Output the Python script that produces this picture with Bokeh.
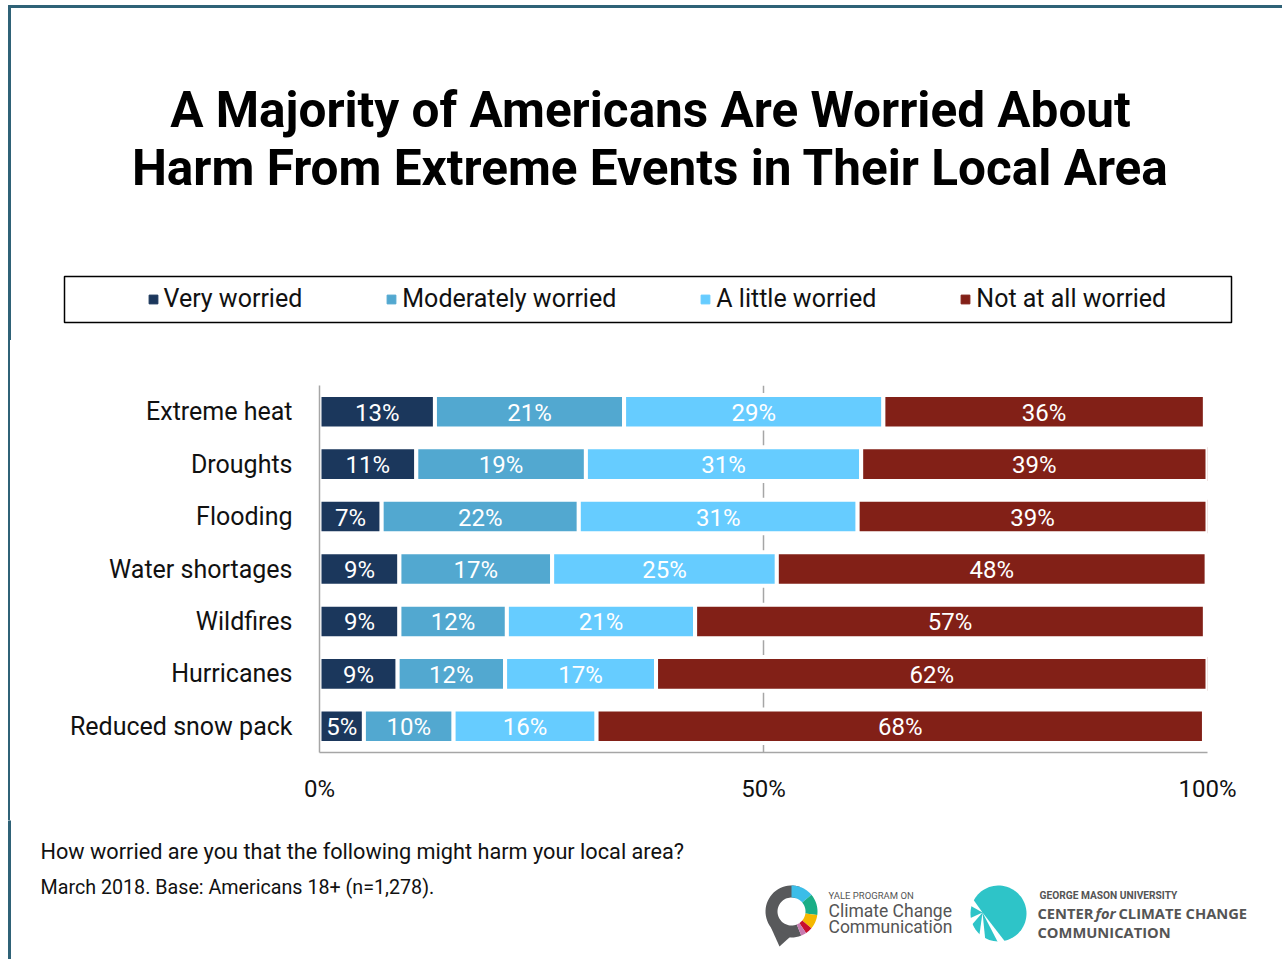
import numpy as np
from bokeh.plotting import figure
from bokeh.layouts import column, row
from bokeh.models import (ColumnDataSource, FactorRange, Range1d, FixedTicker, Label, LabelSet,
                          Legend, LegendItem, Div)
from bokeh.core.properties import value
from bokeh.embed import file_html
from bokeh.resources import INLINE

# ---------------- data ----------------
categories = ["Extreme heat", "Droughts", "Flooding", "Water shortages",
              "Wildfires", "Hurricanes", "Reduced snow pack"]
very_worried = [13.0, 10.9, 7.0, 9.0, 9.0, 8.8, 5.0]
moderately_worried = [21.3, 19.1, 22.2, 17.2, 12.1, 12.1, 10.1]
little_worried = [29.2, 31.0, 31.4, 25.3, 21.2, 17.0, 16.1]
not_worried = [36.2, 39.0, 39.4, 48.4, 57.4, 62.1, 68.4]
series_names = ["Very worried", "Moderately worried", "A little worried", "Not at all worried"]
series_colors = ["#1b375c", "#52a8d0", "#66ccff", "#822017"]
x_ticks = [0, 50, 100]
x_tick_labels = ["0%", "50%", "100%"]

series_values = [very_worried, moderately_worried, little_worried, not_worried]
keys = ["s0", "s1", "s2", "s3"]

data = {"cat": categories}
for k, v in zip(keys, series_values):
    data[k] = v
source = ColumnDataSource(data)

lab_x, lab_y, lab_t = [], [], []
cum = np.zeros(len(categories))
for v in series_values:
    arr = np.array(v, dtype=float)
    for i, c in enumerate(categories):
        lab_x.append(cum[i] + arr[i] / 2.0)
        lab_y.append(c)
        lab_t.append(f"{int(round(arr[i]))}%")
    cum += arr
lab_source = ColumnDataSource(dict(x=lab_x, y=lab_y, t=lab_t))

# ---------------- page geometry ----------------
W = 1282
HEAD_H, MAIN_H, FOOT_H = 340, 480, 139
STRIP_W = 10
FL, FR, FT, FB = 319, 1207, 385, 752        # bar frame in page pixels
BORDER = "#2f6277"


def blank(width, height, y0):
    f = figure(width=width, height=height, output_backend="svg", toolbar_location=None,
               x_range=Range1d(0, width), y_range=Range1d(y0 + height, y0),
               x_axis_location=None, y_axis_location=None, min_border=0)
    f.grid.visible = False
    f.outline_line_color = None
    f.background_fill_color = "white"
    f.border_fill_color = "white"
    return f


def txt(f, text, x, y, size, color="#000000", style="normal", align="left", font="Roboto"):
    f.add_layout(Label(x=x, y=y, text=text, text_font=font, text_font_size=f"{size}px",
                       text_color=color, text_font_style=style, text_align=align,
                       text_baseline="middle"))


# ---------------- header ----------------
head = blank(W, HEAD_H, 0)
head.quad(left=[8], right=[W], top=[5], bottom=[7], color=BORDER)
head.quad(left=[8], right=[10], top=[5], bottom=[HEAD_H], color=BORDER)
txt(head, "A Majority of Americans Are Worried About", 650, 109, 49.5, style="bold", align="center")
txt(head, "Harm From Extreme Events in Their Local Area", 650, 167, 49.5, style="bold", align="center")
head.quad(left=[64], right=[1231], top=[276], bottom=[322], fill_alpha=0,
          line_color="black", line_width=1.5)

# legend swatches: off-canvas stand-in renderers carrying the series colours
dummies = [head.scatter(x=[-1000], y=[-1000], marker="square", color=c) for c in series_colors]
legend = Legend(items=[LegendItem(label=n, renderers=[r]) for n, r in zip(series_names, dummies)],
                orientation="horizontal", location=(141.5, HEAD_H - 313),
                padding=0, spacing=78, margin=0,
                glyph_width=22, glyph_height=28, label_height=28, label_standoff=0,
                label_text_font="Roboto", label_text_font_size="25px",
                label_text_color="#111111", label_text_baseline="middle",
                border_line_color=None, background_fill_alpha=0)
head.add_layout(legend)

# ---------------- main chart ----------------
strip = Div(text="", width=2, height=MAIN_H, margin=(0, 0, 0, 8),
            styles={"background-color": BORDER})

p = figure(width=W - STRIP_W, height=MAIN_H, output_backend="svg", toolbar_location=None,
           x_range=Range1d(0, 100),
           y_range=FactorRange(factors=categories[::-1], range_padding=0),
           min_border_left=FL - STRIP_W, min_border_right=W - FR,
           min_border_top=FT - HEAD_H, min_border_bottom=HEAD_H + MAIN_H - FB)
p.outline_line_color = None
p.background_fill_color = "white"
p.border_fill_color = "white"

renderers = p.hbar_stack(keys, y="cat", height=0.64, color=series_colors, source=source,
                         line_color="white", line_width=4)

p.add_layout(LabelSet(x="x", y="y", text="t", source=lab_source, text_color="white",
                      text_font=value("Roboto"), text_font_size="24px",
                      text_align="center", text_baseline="middle", y_offset=-1))

p.xaxis.ticker = FixedTicker(ticks=x_ticks)
p.xaxis.major_label_overrides = {t: l for t, l in zip(x_ticks, x_tick_labels)}
p.xaxis.major_label_text_font = "Roboto"
p.xaxis.major_label_text_font_size = "24px"
p.xaxis.major_label_text_color = "#111111"
p.xaxis.major_label_standoff = 16
p.xaxis.major_tick_line_color = None
p.xaxis.minor_tick_line_color = None
p.xaxis.axis_line_color = "#a6a6a6"
p.xaxis.axis_line_width = 1.5

p.yaxis.major_label_text_font = "Roboto"
p.yaxis.major_label_text_font_size = "25px"
p.yaxis.major_label_text_color = "#111111"
p.yaxis.major_label_standoff = 21
p.yaxis.major_tick_line_color = None
p.yaxis.minor_tick_line_color = None
p.yaxis.axis_line_color = "#a6a6a6"
p.yaxis.axis_line_width = 1.5

p.xgrid.ticker = FixedTicker(ticks=x_ticks)
p.xgrid.grid_line_color = "#a6a6a6"
p.xgrid.grid_line_width = 1.5
p.ygrid.grid_line_color = None

# ---------------- footer ----------------
Y0 = HEAD_H + MAIN_H
foot = blank(W, FOOT_H, Y0)
foot.quad(left=[8], right=[10], top=[Y0], bottom=[Y0 + FOOT_H], color=BORDER)
txt(foot, "How worried are you that the following might harm your local area?", 40, 851, 21.7,
    color="#111111")
txt(foot, "March 2018. Base: Americans 18+ (n=1,278).", 40, 887, 19.7, color="#111111")

# Yale logo (ring built from arc polygons)
cx, cy, r0, r1 = 791, 911, 14, 26


def arc_poly(a0, a1, n=40):
    t = np.radians(np.linspace(a0, a1, n))
    xo = cx + r1 * np.cos(t)
    yo = cy - r1 * np.sin(t)
    xi = cx + r0 * np.cos(t[::-1])
    yi = cy - r0 * np.sin(t[::-1])
    return list(np.r_[xo, xi]), list(np.r_[yo, yi])


ring_xs, ring_ys, ring_cols = [], [], []
for a0, a1, col in [(-68, -290, "#58595b"), (90, 40, "#3bbde8"), (40, -8, "#1aae86"),
                    (-8, -40, "#f5b800"), (-40, -56, "#c8102e"), (-56, -68, "#c77bb0")]:
    xs, ys = arc_poly(a0, a1)
    ring_xs.append(xs)
    ring_ys.append(ys)
    ring_cols.append(col)
foot.patches(ring_xs, ring_ys, fill_color=ring_cols, line_color=None)
foot.patch([770, 790, 779], [926, 936, 946], fill_color="#58595b", line_color=None)

txt(foot, "YALE PROGRAM ON", 828, 894.5, 9.5, color="#555555")
txt(foot, "Climate Change", 828, 910.5, 17.5, color="#555555")
txt(foot, "Communication", 828, 926.5, 17.5, color="#555555")

# George Mason logo
gcx, gcy, gr = 998, 913, 28
tt = np.radians(np.linspace(0, 360, 80))
foot.patch(list(gcx + gr * np.cos(tt)), list(gcy - gr * np.sin(tt)),
           fill_color="#2ec4c8", line_color=None)
wx, wy = [], []
for ang in [150, 190, 230, 270]:
    a = np.radians(ang)
    b = np.radians(ang + 14)
    wx.append([982, gcx + 30 * np.cos(a), gcx + 30 * np.cos(b)])
    wy.append([912, gcy - 30 * np.sin(a), gcy - 30 * np.sin(b)])
foot.patches(wx, wy, fill_color="white", line_color=None)

txt(foot, "GEORGE MASON UNIVERSITY", 1039, 894.5, 10.2, color="#555555", style="bold")
txt(foot, "CENTER", 1037, 912, 14.7, color="#555555", font="Open Sans", style="bold")
txt(foot, "for", 1095, 912, 14.7, color="#555555", font="Open Sans", style="bold italic")
txt(foot, "CLIMATE CHANGE", 1118, 912, 14.7, color="#555555", font="Open Sans", style="bold")
txt(foot, "COMMUNICATION", 1037, 931, 14.7, color="#555555", font="Open Sans", style="bold")

layout = column(head, row(strip, p, spacing=0), foot, spacing=0)
open("out.html", "w").write(file_html(layout, INLINE))
